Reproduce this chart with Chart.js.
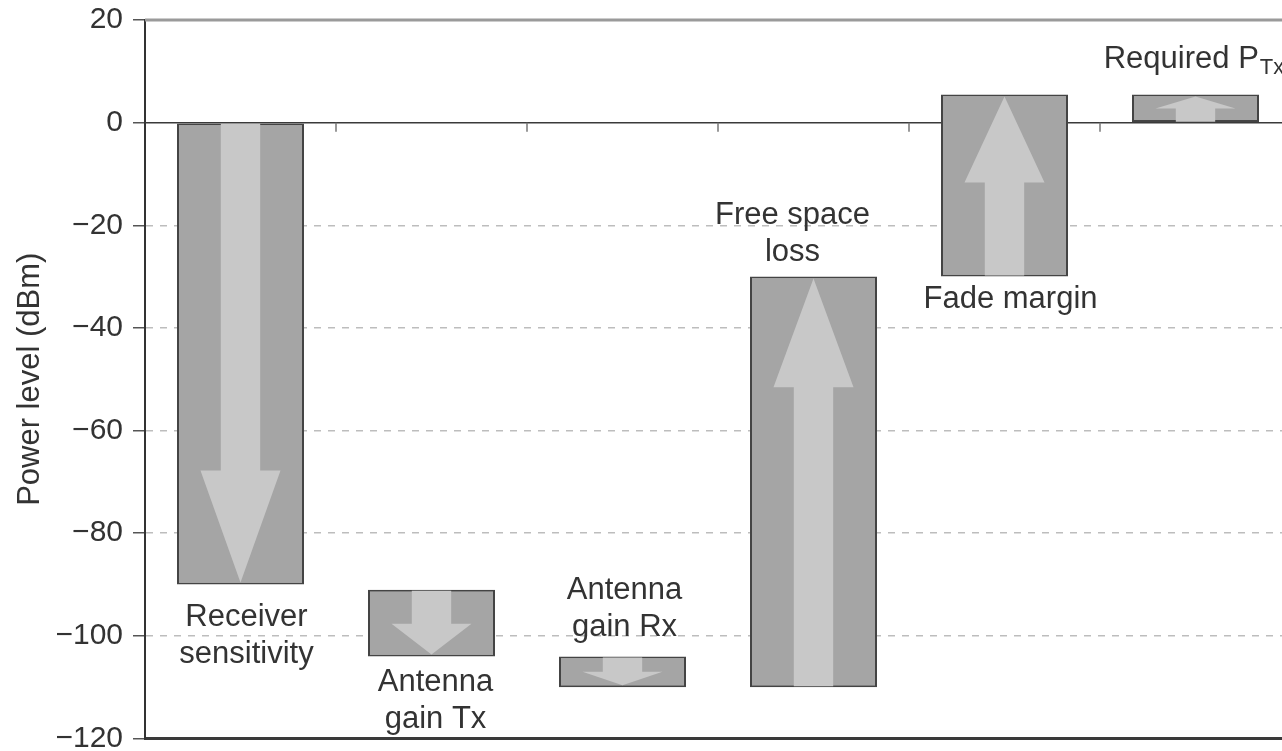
<!DOCTYPE html>
<html>
<head>
<meta charset="utf-8">
<script src="https://cdn.jsdelivr.net/npm/chart.js@4"></script>
<style>
  html, body { margin: 0; padding: 0; background: #fff; overflow: hidden; }
</style>
</head>
<body>
<canvas id="budgetChart" width="1300" height="756"></canvas>
<script>
// link budget steps, each bar runs from start to end (dBm)
const categories = [
    ['Receiver', 'sensitivity'],
    ['Antenna', 'gain Tx'],
    ['Antenna', 'gain Rx'],
    ['Free space', 'loss'],
    ['Fade margin'],
    ['Required P_Tx']
];
const barStart = [0, -91, -104, -110, -30, 0];
const barEnd = [-90, -104, -110, -30, 5.5, 5.5];
const yMin = -120;
const yMax = 20;
const yStep = 20;

const FONT = '"Liberation Sans", Arial, Helvetica, sans-serif';
Chart.defaults.font.family = FONT;

// where the text sits next to each bar (side, x shift, y gap)
const labelPlace = [
    { side: 'below', dx: 6, gap: 33 },
    { side: 'below', dx: 4, gap: 26 },
    { side: 'above', dx: 2, gap: 29 },
    { side: 'above', dx: -21, gap: 24 },
    { side: 'below', dx: 6, gap: 23 },
    { side: 'above', dx: -2, gap: 35 }
];

// solid zero/top lines plus small category ticks on the zero line
const axisLines = {
    id: 'axisLines',
    beforeDatasetsDraw(chart) {
        const ctx = chart.ctx;
        const area = chart.chartArea;
        const y = chart.scales.y;
        const x = chart.scales.x;
        ctx.save();
        // top line at +20
        ctx.strokeStyle = '#9a9a9a';
        ctx.lineWidth = 3;
        ctx.beginPath();
        ctx.moveTo(area.left, y.getPixelForValue(yMax));
        ctx.lineTo(area.right, y.getPixelForValue(yMax));
        ctx.stroke();
        // zero line
        const y0 = y.getPixelForValue(0);
        ctx.strokeStyle = '#3a3a3a';
        ctx.lineWidth = 1.5;
        ctx.beginPath();
        ctx.moveTo(area.left, y0);
        ctx.lineTo(area.right, y0);
        ctx.stroke();
        // category boundary ticks
        ctx.strokeStyle = '#777';
        ctx.lineWidth = 1.5;
        for (let i = 0; i < categories.length - 1; i++) {
            const bx = (x.getPixelForValue(i) + x.getPixelForValue(i + 1)) / 2;
            ctx.beginPath();
            ctx.moveTo(bx, y0);
            ctx.lineTo(bx, y0 + 9);
            ctx.stroke();
        }
        ctx.restore();
    }
};

// light arrows inside the bars and the step labels
const arrowsAndLabels = {
    id: 'arrowsAndLabels',
    afterDatasetsDraw(chart) {
        const ctx = chart.ctx;
        const y = chart.scales.y;
        const meta = chart.getDatasetMeta(0);
        ctx.save();
        meta.data.forEach((bar, i) => {
            const w = bar.width;
            const cx = bar.x;
            const ys = y.getPixelForValue(barStart[i]);
            const ye = y.getPixelForValue(barEnd[i]);
            const dir = ye > ys ? 1 : -1; // 1 = pointing down
            const tail = ys + dir * 1;
            const tip = ye - dir * 2;
            const h = Math.abs(tip - tail);
            const headLen = Math.min(h * 0.48, 80 + h * 0.07);
            const shaftW = w * 0.31;
            const headW = w * 0.63;
            const neck = tip - dir * headLen;

            ctx.fillStyle = '#c8c8c8';
            ctx.beginPath();
            ctx.moveTo(cx - shaftW / 2, tail);
            ctx.lineTo(cx - shaftW / 2, neck);
            ctx.lineTo(cx - headW / 2, neck);
            ctx.lineTo(cx, tip);
            ctx.lineTo(cx + headW / 2, neck);
            ctx.lineTo(cx + shaftW / 2, neck);
            ctx.lineTo(cx + shaftW / 2, tail);
            ctx.closePath();
            ctx.fill();

            // label text
            const place = labelPlace[i];
            const lines = categories[i];
            const top = Math.min(ys, ye);
            const bottom = Math.max(ys, ye);
            const lineGap = 37;
            let firstY;
            if (place.side === 'below') {
                firstY = bottom + place.gap;
            } else {
                firstY = top - place.gap - (lines.length - 1) * lineGap;
            }
            ctx.fillStyle = '#333';
            ctx.textBaseline = 'middle';
            lines.forEach((line, k) => {
                const ly = firstY + k * lineGap;
                const lx = cx + place.dx;
                if (line.indexOf('_') >= 0) {
                    const parts = line.split('_');
                    ctx.font = '31px ' + FONT;
                    const mainW = ctx.measureText(parts[0]).width;
                    ctx.font = '22px ' + FONT;
                    const subW = ctx.measureText(parts[1]).width;
                    const startX = lx - (mainW + subW) / 2;
                    ctx.textAlign = 'left';
                    ctx.font = '31px ' + FONT;
                    ctx.fillText(parts[0], startX, ly);
                    ctx.font = '22px ' + FONT;
                    ctx.fillText(parts[1], startX + mainW + 1, ly + 9);
                } else {
                    ctx.font = '31px ' + FONT;
                    ctx.textAlign = 'center';
                    ctx.fillText(line, lx, ly);
                }
            });
        });
        ctx.restore();
    }
};

const ctx = document.getElementById('budgetChart').getContext('2d');
new Chart(ctx, {
    type: 'bar',
    data: {
        labels: categories.map(c => c.join(' ')),
        datasets: [{
            label: 'Power level',
            data: barStart.map((s, i) => [s, barEnd[i]]),
            backgroundColor: '#a5a5a5',
            borderColor: '#444',
            borderWidth: 2,
            borderSkipped: false,
            categoryPercentage: 1.0,
            barPercentage: 0.665
        }]
    },
    options: {
        responsive: false,
        animation: false,
        layout: {
            padding: { top: 20, bottom: 8, right: 9, left: 0 }
        },
        plugins: {
            legend: { display: false },
            tooltip: { enabled: false }
        },
        scales: {
            x: {
                ticks: { display: false },
                grid: { display: false, drawTicks: false },
                border: { display: true, color: '#3a3a3a', width: 3 },
                afterFit: function(scale) { scale.height = 0; }
            },
            y: {
                min: yMin,
                max: yMax,
                ticks: {
                    stepSize: yStep,
                    color: '#333',
                    padding: 10,
                    font: { size: 30, lineHeight: 0.5 },
                    callback: function(value) {
                        return String(value).replace('-', '\u2212');
                    }
                },
                grid: {
                    lineWidth: 1.5,
                    tickLength: 12,
                    tickColor: '#555',
                    tickWidth: 1.5,
                    color: function(c) {
                        const v = c.tick ? c.tick.value : null;
                        if (v === 0 || v === yMax || v === yMin) return 'rgba(0,0,0,0)';
                        return '#bdbdbd';
                    }
                },
                border: {
                    display: true,
                    color: '#333',
                    width: 2,
                    dash: function(c) { return c.type === 'tick' ? [7, 7] : []; }
                },
                title: {
                    display: true,
                    text: 'Power level (dBm)',
                    color: '#333',
                    font: { size: 31 },
                    padding: { top: 12, bottom: 0 }
                },
                afterFit: function(scale) { scale.width = 145; }
            }
        }
    },
    plugins: [axisLines, arrowsAndLabels]
});
</script>
</body>
</html>
